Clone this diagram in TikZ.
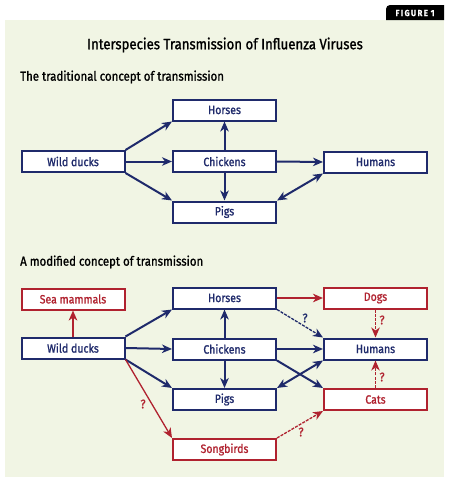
\documentclass[tikz,border=0pt]{standalone}
\usepackage{fontspec}
\setmainfont{Fira Sans}[FakeStretch=0.88,FakeBold=1.2]
\usetikzlibrary{arrows.meta}
\definecolor{navy}{HTML}{1F2A6B}
\definecolor{dred}{HTML}{B0222F}
\definecolor{bgc}{HTML}{F1F5E4}
\begin{document}
\begin{tikzpicture}[x=1pt,y=-1pt,
  tip/.tip={Stealth[length=10pt,width=8.5pt,inset=3pt]},
  box/.style={draw=navy,fill=white,line width=2pt,minimum width=103pt,minimum height=21pt,inner sep=0pt,text=navy,font=\fontsize{12}{14}\selectfont},
  rbox/.style={box,draw=dred,text=dred},
  arr/.style={draw=navy,line width=2pt,-tip},
  darr/.style={arr,tip-tip},
  rarr/.style={arr,draw=dred},
  qarr/.style={arr,line width=1.3pt,dash pattern=on 3pt off 1.2pt},
  rqarr/.style={qarr,draw=dred},
  thinr/.style={arr,draw=dred,line width=1.3pt},
  q/.style={font=\fontsize{12.5}{14}\selectfont,inner sep=0pt},
  head/.style={anchor=west,inner sep=0pt,font=\fontsize{13}{15}\selectfont,text=black}]
\useasboundingbox (0,0) rectangle (448,479);
\fill[bgc] (5,20) rectangle (444,477);
\fill[black] (386,20) [rounded corners=4pt]-- (386,5) [sharp corners]-- (444,5) -- (444,20) -- cycle;
\node[text=white,inner sep=0pt,font=\bfseries\fontsize{8.8}{9}\selectfont] (fig) at (415,13) {F\,I\,G\,U\,R\,E\,\,1};
\node[inner sep=0pt,font=\fontsize{15}{17}\selectfont] (title) at (225,45) {Interspecies Transmission of Influenza Viruses};
\node[head] (h1) at (20,77) {The traditional concept of transmission};
\node[head] (h2) at (20,262) {A modified concept of transmission};
% top diagram
\node[box] (horses1) at (224.5,110) {Horses};
\node[box] (ducks1) at (73,161.5) {Wild ducks};
\node[box] (chick1) at (224.5,161.5) {Chickens};
\node[box] (hum1) at (375.5,162) {Humans};
\node[box] (pigs1) at (224.5,212) {Pigs};
\draw[arr] (ducks1.north east) -- (horses1.south west);
\draw[arr] (ducks1.east) -- (chick1.west);
\draw[arr] (ducks1.south east) -- (pigs1.north west);
\draw[arr] (chick1.north) -- (horses1.south);
\draw[arr] (chick1.south) -- (pigs1.north);
\draw[arr] (chick1.east) -- (hum1.west);
\draw[darr] (hum1.south west) -- (pigs1.north east);
% bottom diagram
\node[rbox] (sea) at (73,299) {Sea mammals};
\node[box] (horses2) at (224.5,298) {Horses};
\node[rbox] (dogs) at (375.5,298) {Dogs};
\node[box] (ducks2) at (73,348) {Wild ducks};
\node[box] (chick2) at (224.5,349) {Chickens};
\node[box] (hum2) at (375.5,349) {Humans};
\node[box] (pigs2) at (224.5,399.5) {Pigs};
\node[rbox] (cats) at (375.5,399.5) {Cats};
\node[rbox] (song) at (224.5,449.5) {Songbirds};
\draw[rarr] (ducks2.north -| sea.south) -- (sea.south);
\draw[arr] (ducks2.north east) -- (horses2.south west);
\draw[arr] (ducks2.east) -- (chick2.west);
\draw[arr] (ducks2.south east) -- (pigs2.north west);
\draw[thinr] (ducks2.south east) -- (song.north west);
\draw[arr] (chick2.north) -- (horses2.south);
\draw[arr] (chick2.south) -- (pigs2.north);
\draw[arr] (chick2.east) -- (hum2.west);
\draw[arr] (chick2.south east) -- (cats.north west);
\draw[darr] (hum2.south west) -- (pigs2.north east);
\draw[rarr] (horses2.east) -- (dogs.west);
\draw[qarr] (horses2.south east) -- (hum2.north west);
\draw[rqarr] (dogs.south) -- (hum2.north);
\draw[rqarr] (cats.north) -- (hum2.south);
\draw[rqarr] (song.north east) -- (cats.south west);
\node[q,text=navy] (q1) at (305,318) {?};
\node[q,text=dred] (q2) at (382,320) {?};
\node[q,text=dred] (q3) at (382,377) {?};
\node[q,text=dred] (q4) at (301,432) {?};
\node[q,text=dred] (q5) at (143,404) {?};
\end{tikzpicture}
\end{document}
